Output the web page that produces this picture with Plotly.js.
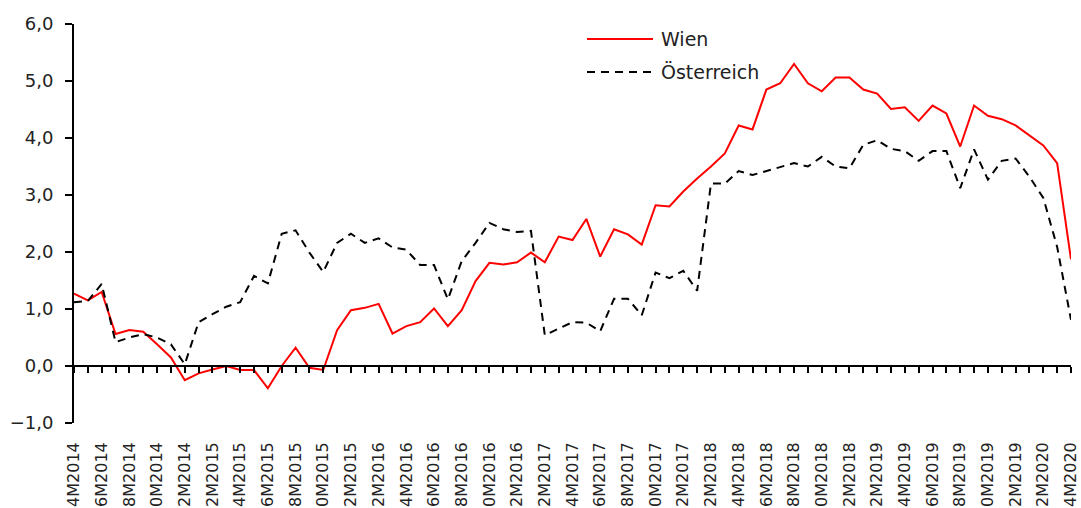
<!DOCTYPE html>
<html>
<head>
<meta charset="utf-8">
<script src="https://cdn.plot.ly/plotly-3.0.1.min.js"></script>
<style>
  html, body { margin: 0; padding: 0; background: #fff; overflow: hidden; }
  #chart { width: 1081px; height: 508px; }
</style>
</head>
<body>
<div id="chart"></div>
<script>
// Monthly categories
var months = [
  "04M2014","05M2014","06M2014","07M2014","08M2014","09M2014","10M2014","11M2014","12M2014",
  "01M2015","02M2015","03M2015","04M2015","05M2015","06M2015","07M2015","08M2015","09M2015","10M2015","11M2015","12M2015",
  "01M2016","02M2016","03M2016","04M2016","05M2016","06M2016","07M2016","08M2016","09M2016","10M2016","11M2016","12M2016",
  "01M2017","02M2017","03M2017","04M2017","05M2017","06M2017","07M2017","08M2017","09M2017","10M2017","11M2017","12M2017",
  "01M2018","02M2018","03M2018","04M2018","05M2018","06M2018","07M2018","08M2018","09M2018","10M2018","11M2018","12M2018",
  "01M2019","02M2019","03M2019","04M2019","05M2019","06M2019","07M2019","08M2019","09M2019","10M2019","11M2019","12M2019",
  "01M2020","02M2020","03M2020","04M2020"
];

// Tick labels as they appear in the chart (every second month)
var tickLabels = [
  "4M2014","6M2014","8M2014","0M2014","2M2014",
  "2M2015","4M2015","6M2015","8M2015","0M2015","2M2015",
  "2M2016","4M2016","6M2016","8M2016","0M2016","2M2016",
  "2M2017","4M2017","6M2017","8M2017","0M2017","2M2017",
  "2M2018","4M2018","6M2018","8M2018","0M2018","2M2018",
  "2M2019","4M2019","6M2019","8M2019","0M2019","2M2019",
  "2M2020","4M2020"
];

var wien = [
  1.27, 1.15, 1.30, 0.56, 0.63, 0.60, 0.38, 0.15, -0.25, -0.13,
  -0.06, 0.00, -0.07, -0.07, -0.39, 0.00, 0.32, -0.03, -0.07, 0.63,
  0.98, 1.02, 1.09, 0.57, 0.70, 0.77, 1.01, 0.70, 0.98, 1.49,
  1.81, 1.78, 1.82, 1.99, 1.82, 2.27, 2.21, 2.58, 1.92, 2.40,
  2.31, 2.13, 2.82, 2.80, 3.06, 3.29, 3.50, 3.73, 4.22, 4.15,
  4.85, 4.96, 5.30, 4.96, 4.82, 5.06, 5.06, 4.85, 4.78, 4.51,
  4.54, 4.30, 4.57, 4.43, 3.85, 4.57, 4.39, 4.33, 4.22, 4.04,
  3.87, 3.56, 1.87
];

var oesterreich = [
  1.12, 1.14, 1.44, 0.42, 0.50, 0.56, 0.50, 0.38, 0.03, 0.77,
  0.91, 1.04, 1.12, 1.58, 1.45, 2.32, 2.38, 1.99, 1.65, 2.16,
  2.32, 2.16, 2.24, 2.08, 2.04, 1.77, 1.77, 1.17, 1.84, 2.16,
  2.51, 2.40, 2.35, 2.37, 0.54, 0.65, 0.77, 0.76, 0.61, 1.18,
  1.18, 0.89, 1.64, 1.54, 1.67, 1.32, 3.20, 3.20, 3.42, 3.35,
  3.42, 3.50, 3.56, 3.50, 3.67, 3.50, 3.47, 3.88, 3.96, 3.81,
  3.77, 3.60, 3.77, 3.77, 3.12, 3.80, 3.27, 3.60, 3.64, 3.32,
  2.95, 2.09, 0.81
];

var seriesNames = ["Wien", "Österreich"];
var yTicks = [-1, 0, 1, 2, 3, 4, 5, 6];

var tickVals = months.filter(function (m, i) { return i % 2 === 0; });

var FONT = "DejaVu Sans, Arial, sans-serif";
var TXT = "#222222";

var traces = [
  {
    x: months, y: wien, name: seriesNames[0], type: "scatter", mode: "lines",
    xaxis: "x", yaxis: "y",
    line: { color: "#ff0000", width: 2 }, showlegend: false, hoverinfo: "x+y"
  },
  {
    x: months, y: oesterreich, name: seriesNames[1], type: "scatter", mode: "lines",
    xaxis: "x2", yaxis: "y",
    line: { color: "#000000", width: 2, dash: "8px,6px" }, showlegend: false, hoverinfo: "x+y"
  }
];

function px2paperX(p) { return (p - 74) / 997; }
function px2paperY(p) { return (423 - p) / 399; }

var layout = {
  width: 1081, height: 508,
  margin: { l: 74, r: 10, t: 24, b: 85, pad: 0 },
  paper_bgcolor: "#ffffff", plot_bgcolor: "#ffffff",
  font: { family: FONT, size: 18, color: TXT },
  showlegend: false,
  separators: ",.",
  xaxis: {
    type: "category", categoryorder: "array", categoryarray: months,
    range: [0, months.length - 1], fixedrange: true,
    showline: false, showgrid: false, zeroline: false,
    ticks: "", tickmode: "array", tickvals: tickVals, ticktext: tickLabels,
    tickangle: -90, tickfont: { family: FONT, size: 16, color: TXT },
    ticklabelstandoff: 15, automargin: false
  },
  xaxis2: {
    type: "category", categoryorder: "array", categoryarray: months,
    overlaying: "x", anchor: "free", position: 1 / 7, side: "bottom",
    range: [0, months.length - 1], fixedrange: true,
    showline: true, linecolor: "#000000", linewidth: 2,
    showgrid: false, zeroline: false,
    ticks: "outside", ticklen: 6, tickwidth: 2, tickcolor: "#000000",
    tickmode: "linear", tick0: 0, dtick: 1,
    showticklabels: false, automargin: false
  },
  yaxis: {
    range: [-1, 6], fixedrange: true,
    tickmode: "array", tickvals: yTicks, tickformat: ".1f",
    showline: true, linecolor: "#000000", linewidth: 2,
    showgrid: false, zeroline: false,
    ticks: "outside", ticklen: 7, tickwidth: 2, tickcolor: "#000000",
    tickfont: { family: FONT, size: 18, color: TXT },
    ticklabelstandoff: 8, automargin: false
  },
  shapes: [
    { type: "line", xref: "paper", yref: "paper",
      x0: px2paperX(587), x1: px2paperX(653), y0: px2paperY(39), y1: px2paperY(39),
      line: { color: "#ff0000", width: 2 } },
    { type: "line", xref: "paper", yref: "paper",
      x0: px2paperX(587), x1: px2paperX(653), y0: px2paperY(72), y1: px2paperY(72),
      line: { color: "#000000", width: 2, dash: "8px,6px" } }
  ],
  annotations: [
    { xref: "paper", yref: "paper", x: px2paperX(659), y: px2paperY(39),
      xanchor: "left", yanchor: "middle", showarrow: false, text: seriesNames[0],
      font: { family: FONT, size: 19, color: TXT } },
    { xref: "paper", yref: "paper", x: px2paperX(659), y: px2paperY(72),
      xanchor: "left", yanchor: "middle", showarrow: false, text: seriesNames[1],
      font: { family: FONT, size: 19, color: TXT } }
  ]
};

Plotly.newPlot("chart", traces, layout, { displayModeBar: false, staticPlot: true });
</script>
</body>
</html>
